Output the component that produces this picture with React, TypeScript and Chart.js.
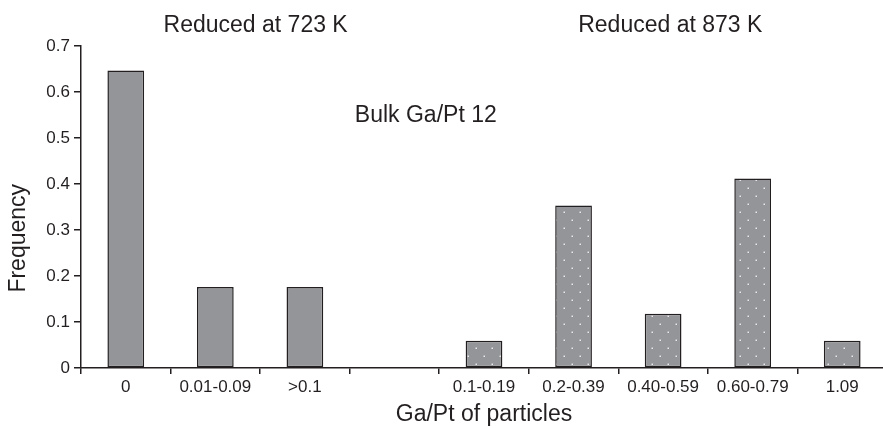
import React, { useEffect, useRef } from 'react';
import { Chart, registerables } from 'chart.js';

Chart.register(...registerables);

const categories = ['0', '0.01-0.09', '>0.1', '', '0.1-0.19', '0.2-0.39', '0.40-0.59', '0.60-0.79', '1.09'];
const reduced723: (number | null)[] = [0.647, 0.176, 0.176, null, null, null, null, null, null];
const reduced873: (number | null)[] = [null, null, null, null, 0.059, 0.353, 0.118, 0.412, 0.059];
const yMin = 0;
const yMax = 0.7;
const yStep = 0.1;
const groupTitles = ['Reduced at 723 K', 'Reduced at 873 K'];
const annotationText = 'Bulk Ga/Pt 12';
const xTitle = 'Ga/Pt of particles';
const yTitle = 'Frequency';

const INK = '#231f20';
const BAR_GREY = '#949598';
const FONT = '"Liberation Sans", Arial, Helvetica, sans-serif';

function makeDotPattern(ctx: CanvasRenderingContext2D): CanvasPattern | string {
  const c = document.createElement('canvas');
  c.width = 16;
  c.height = 16;
  const p = c.getContext('2d');
  if (!p) return BAR_GREY;
  p.fillStyle = BAR_GREY;
  p.fillRect(0, 0, 16, 16);
  p.fillStyle = '#e8e8ea';
  p.fillRect(3.5, 3.5, 1.5, 1.5);
  p.fillRect(11.5, 11.5, 1.5, 1.5);
  return ctx.createPattern(c, 'repeat') || BAR_GREY;
}

const textPlugin = {
  id: 'annotTexts',
  afterDraw(chart: any) {
    const { ctx, scales } = chart;
    const xs = scales.x;
    const ys = scales.y;
    ctx.save();
    ctx.fillStyle = INK;
    ctx.font = `23px ${FONT}`;
    ctx.textAlign = 'center';
    ctx.textBaseline = 'alphabetic';
    ctx.fillText(groupTitles[0], xs.getPixelForValue(1.45), ys.getPixelForValue(0.73));
    ctx.fillText(groupTitles[1], xs.getPixelForValue(6.08), ys.getPixelForValue(0.73));
    ctx.fillText(annotationText, xs.getPixelForValue(3.35), ys.getPixelForValue(0.5355));
    ctx.translate(25, ys.getPixelForValue(0.282));
    ctx.rotate(-Math.PI / 2);
    ctx.fillText(yTitle, 0, 0);
    ctx.restore();
  },
};

export default function App() {
  const ref = useRef<HTMLCanvasElement | null>(null);

  useEffect(() => {
    const canvas = ref.current;
    if (!canvas) return;
    const ctx = canvas.getContext('2d');
    if (!ctx) return;
    const pattern = makeDotPattern(ctx);
    const chart = new Chart(ctx, {
      type: 'bar',
      data: {
        labels: categories,
        datasets: [
          {
            label: groupTitles[0],
            data: reduced723,
            backgroundColor: BAR_GREY,
            borderColor: INK,
            borderWidth: 1.5,
            borderSkipped: false,
            barPercentage: 0.41,
            categoryPercentage: 1,
          },
          {
            label: groupTitles[1],
            data: reduced873,
            backgroundColor: pattern as any,
            borderColor: INK,
            borderWidth: 1.5,
            borderSkipped: false,
            barPercentage: 0.41,
            categoryPercentage: 1,
          },
        ],
      },
      options: {
        responsive: false,
        animation: false,
        events: [],
        layout: { padding: { top: 46, right: 1, left: 0, bottom: 0 } },
        plugins: {
          legend: { display: false },
          tooltip: { enabled: false },
          title: { display: false },
        },
        scales: {
          x: {
            stacked: true,
            offset: true,
            grid: {
              offset: true,
              drawOnChartArea: false,
              drawTicks: true,
              tickLength: 6,
              color: INK,
              lineWidth: 1.5,
            },
            border: { display: true, color: INK, width: 1.5 },
            ticks: {
              color: INK,
              font: { family: FONT, size: 17 },
              padding: 3,
              maxRotation: 0,
              autoSkip: false,
            },
            title: {
              display: true,
              text: xTitle,
              color: INK,
              font: { family: FONT, size: 23 },
              padding: { top: 0, bottom: 0 },
            },
            afterFit(scale: any) {
              scale.height = 60;
            },
          },
          y: {
            stacked: true,
            min: yMin,
            max: yMax,
            grid: {
              drawOnChartArea: false,
              drawTicks: true,
              tickLength: 7,
              color: INK,
              lineWidth: 1.5,
            },
            border: { display: true, color: INK, width: 1.5 },
            ticks: {
              stepSize: yStep,
              color: INK,
              font: { family: FONT, size: 17 },
              padding: 4,
              callback: (v: any) => (Number(v) === 0 ? '0' : Number(v).toFixed(1)),
            },
            afterFit(scale: any) {
              scale.width = 81;
            },
          },
        },
      },
      plugins: [textPlugin],
    });
    return () => chart.destroy();
  }, []);

  return (
    <div
      style={{
        position: 'fixed',
        left: 0,
        top: 0,
        width: 883,
        height: 428,
        overflow: 'hidden',
        background: '#fff',
      }}
    >
      <canvas ref={ref} width={888} height={428} style={{ width: 888, height: 428, display: 'block' }} />
    </div>
  );
}
